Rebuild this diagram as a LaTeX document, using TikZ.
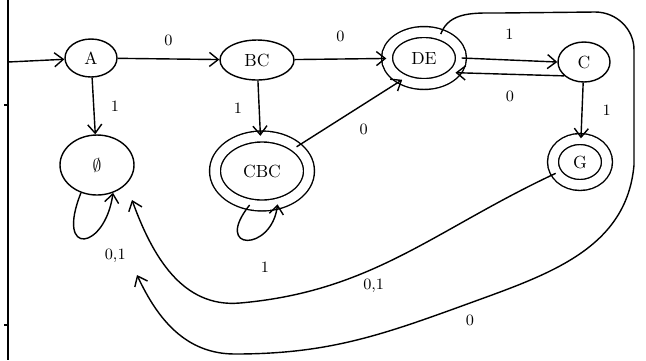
\documentclass[tikz,border=0pt]{standalone}
\usepackage{amsmath,amssymb}
\usetikzlibrary{arrows.meta,positioning,shapes.geometric}

\begin{document}
\begin{tikzpicture}[x=0.02cm, y=-0.02cm, line width=0.8pt,
    state/.style={draw, ellipse, inner sep=0pt, font=\normalsize},
    accept/.style={state, double, double distance=0.19cm},
    trans/.style={-{Straight Barb[length=5pt,width=8pt]}},
    lbl/.style={font=\small}]
  \useasboundingbox (0,0) rectangle (646,360);

  %% frame edge on the left
  \draw (8,0) -- (8,360);
  \draw (4,105) -- (8,105);
  \draw (4,325) -- (8,325);

  %% states
  \node[state, minimum width=1.04cm, minimum height=0.76cm] (A) at (91,58) {A};
  \node[state, minimum width=1.48cm, minimum height=0.8cm] (BC) at (257,60) {BC};
  \node[accept, minimum width=1.48cm, minimum height=1.04cm] (DE) at (424,58) {DE};
  \node[state, minimum width=1.04cm, minimum height=0.8cm] (C) at (584,62) {C};
  \node[accept, minimum width=1.08cm, minimum height=0.92cm] (G) at (580,162) {G};
  \node[state, minimum width=1.48cm, minimum height=1.2cm] (phi) at (97,165) {$\emptyset$};
  \node[accept, minimum width=1.88cm, minimum height=1.38cm] (CBC) at (262,171) {CBC};

  %% helper points
  \coordinate (start) at (8,62);
  \coordinate (topl) at (500,13);
  \coordinate (topr) at (595,12);
  \coordinate (rtop) at (634,50);
  \coordinate (rbot) at (634,165);
  \coordinate (lowmid) at (470,303);
  \coordinate (lowleft) at (235,354);
  \coordinate (phiin) at (137,275);
  \coordinate (gbot) at (240,303);
  \coordinate (phiin2) at (132,200);

  %% transitions
  \draw[trans] (start) -- (A);
  \draw[trans] (A) -- node[lbl, above=4pt]{0} (BC);
  \draw[trans] (A) -- node[lbl, right=6pt]{1} (phi);
  \draw[trans] (BC) -- node[lbl, above=6pt]{0} (DE);
  \draw[trans] (BC) -- node[lbl, left=6pt]{1} (CBC);
  \draw[trans] (CBC.35) -- node[lbl, below right=3pt]{0} (DE.225);
  \draw[trans] (DE.east) -- node[lbl, above=8pt]{1} (C.west);
  \draw[trans] (C.215) -- node[lbl, below=6pt]{0} (DE.335);
  \draw[trans] (C) -- node[lbl, right=8pt]{1} (G);

  %% loops
  \draw[trans] (phi.240) .. controls (55,258) and (105,250) .. node[lbl, anchor=north west, xshift=8pt, yshift=-2pt]{0,1} (phi.300);
  \draw[trans] (CBC.250) .. controls (212,252) and (272,252) .. node[lbl, anchor=north, xshift=10pt, yshift=-8.5pt]{1} (CBC.295);

  %% long ones back to the empty state
  \draw[trans] (G.205) to[out=205,in=5] node[lbl, below=2pt, pos=0.6]{0,1} (gbot) to[out=185,in=-70] (phiin2);
  \draw[trans] (DE.55) to[out=70,in=180] (topl) -- (topr) to[out=0,in=90] (rtop) -- (rbot)
    to[out=265,in=20] node[lbl, below=3pt, pos=1]{0} (lowmid) to[out=200,in=0] (lowleft) to[out=180,in=-65] (phiin);
\end{tikzpicture}
\end{document}
